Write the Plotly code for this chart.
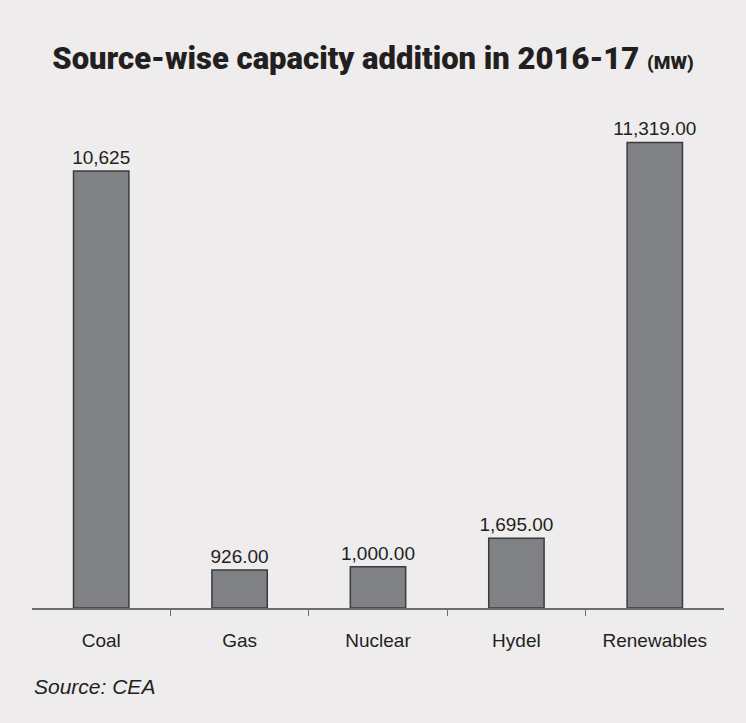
import plotly.graph_objects as go

# data
sources = ["Coal", "Gas", "Nuclear", "Hydel", "Renewables"]
capacity_mw = [10625, 926, 1000, 1695, 11319]
value_labels = ["10,625", "926.00", "1,000.00", "1,695.00", "11,319.00"]

bg = "#eeecec"
ink = "#231f20"
label_font = "Liberation Sans, Arial, sans-serif"

fig = go.Figure()

fig.add_trace(go.Bar(
    x=sources,
    y=capacity_mw,
    text=value_labels,
    textposition="outside",
    constraintext="none",
    textfont=dict(family=label_font, size=19, color=ink),
    cliponaxis=False,
    width=0.4,
    marker=dict(color="#808184", line=dict(color="#3b3b3d", width=1.5)),
    hoverinfo="skip",
))

# invisible helper trace so the boundary ticks get drawn
fig.add_trace(go.Scatter(x=[-0.5, 4.5], y=[0, 0], xaxis="x2", mode="markers",
                         marker=dict(opacity=0), hoverinfo="skip", showlegend=False))

fig.update_layout(
    width=746,
    height=723,
    paper_bgcolor=bg,
    plot_bgcolor=bg,
    showlegend=False,
    margin=dict(l=32, r=22, t=100, b=115),
    title=dict(
        text="Source-wise capacity addition in 2016-17 <span style='font-size:19px'>(MW)</span>",
        x=0.5, xanchor="center",
        y=1 - 58 / 723, yanchor="middle",
        font=dict(family="Roboto, Liberation Sans, sans-serif",
                  size=31, color=ink, weight=900),
    ),
    xaxis=dict(
        type="category",
        showline=False,
        ticks="",
        showgrid=False,
        tickfont=dict(family=label_font, size=19, color=ink),
        ticklabelstandoff=19,
    ),
    xaxis2=dict(
        overlaying="x",
        side="bottom",
        range=[-0.5, 4.5],
        tickvals=[0.5, 1.5, 2.5, 3.5],
        showticklabels=False,
        ticks="outside",
        ticklen=6,
        tickwidth=1.2,
        tickcolor="#6d6e71",
        showline=True,
        linecolor="#6d6e71",
        linewidth=1.5,
        showgrid=False,
        zeroline=False,
        anchor="y",
    ),
    yaxis=dict(
        range=[0, 12351],
        visible=False,
        showgrid=False,
        zeroline=False,
    ),
    annotations=[dict(
        text="<i>Source: CEA</i>",
        xref="paper", yref="paper",
        x=0, y=(608 - 686) / 508,
        xanchor="left", yanchor="middle",
        showarrow=False,
        font=dict(family=label_font, size=21, color=ink),
    )],
)

# drop the page's default body margin so the chart fills the window
fig.write_html("out.html", config={"displayModeBar": False},
               post_script="document.body.style.margin='0';document.body.style.overflow='hidden';")
